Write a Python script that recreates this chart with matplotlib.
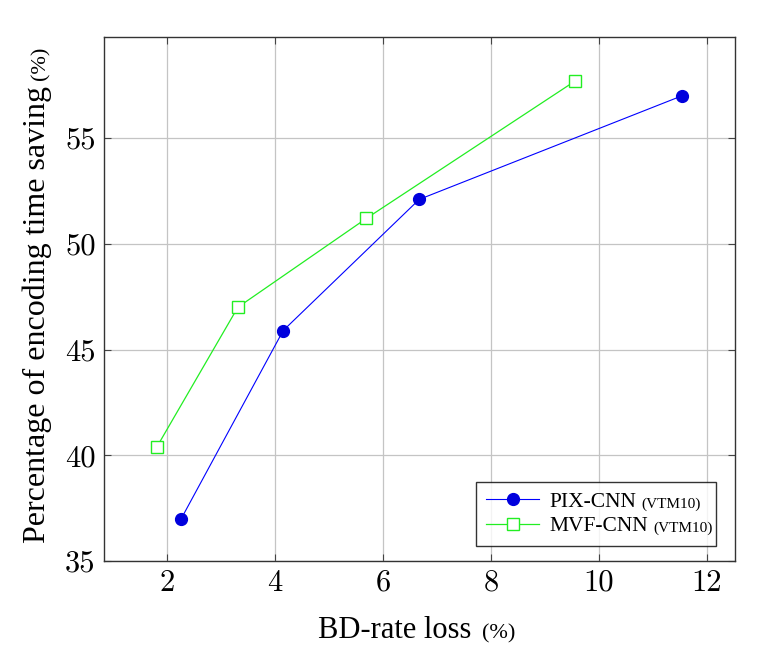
import matplotlib
matplotlib.use("Agg")
import matplotlib.pyplot as plt

# BD-rate loss (%) vs encoding time saving (%)
pix_bd = [2.26, 4.15, 6.67, 11.54]
pix_ts = [37.0, 45.9, 52.1, 57.0]
mvf_bd = [1.81, 3.31, 5.69, 9.56]
mvf_ts = [40.4, 47.0, 51.2, 57.7]

xticks = [2, 4, 6, 8, 10, 12]
yticks = [35, 40, 45, 50, 55]

serif = "Liberation Serif"

fig = plt.figure(figsize=(7.61, 6.51), dpi=100)
ax = fig.add_axes([0.1367, 0.1382, 0.8291, 0.8050])

ax.plot(pix_bd, pix_ts, color="blue", lw=0.8, marker="o", ms=8.5,
        mfc="#0000dd", mec="#0000dd", label="PIX-CNN")
ax.plot(mvf_bd, mvf_ts, color="#22ee22", lw=0.9, marker="s", ms=8,
        mfc="white", mec="#22ee22", mew=1.0, label="MVF-CNN")

ax.set_xlim(0.83, 12.52)
ax.set_ylim(35, 59.78)
ax.set_xticks(xticks)
ax.set_yticks(yticks)
ax.grid(True, color="#c4c4c4", lw=0.9)
ax.set_axisbelow(True)
ax.tick_params(direction="in", top=True, right=True, length=5,
               color="#444444", labelsize=22, pad=6)
for lab in ax.get_xticklabels() + ax.get_yticklabels():
    lab.set_fontfamily("cmr10")
for sp in ax.spines.values():
    sp.set_color("#333333")
    sp.set_linewidth(1.0)

# axis labels with smaller "(%)"
ax.text(0.583, -0.147, "BD-rate loss", transform=ax.transAxes,
        ha="right", va="baseline", fontsize=22, family=serif)
ax.text(0.599, -0.147, "(%)", transform=ax.transAxes,
        ha="left", va="baseline", fontsize=16, family=serif)
ax.text(-0.093, 0.034, "Percentage of encoding time saving", transform=ax.transAxes,
        rotation=90, rotation_mode="anchor", ha="left", va="baseline",
        fontsize=23, family=serif)
ax.text(-0.093, 0.918, "(%)", transform=ax.transAxes,
        rotation=90, rotation_mode="anchor", ha="left", va="baseline",
        fontsize=16, family=serif)

leg = ax.legend(loc="lower left", bbox_to_anchor=(0.5895, 0.0286, 0.3805, 0.12),
                mode="expand", fancybox=False, edgecolor="black",
                prop={"family": serif, "size": 15.5}, handlelength=2.5,
                borderpad=0.45, labelspacing=0.2, handletextpad=0.45,
                borderaxespad=0)
leg.get_frame().set_linewidth(1.0)
for t in leg.get_texts():
    ax.annotate("(VTM10)", xy=(1, 0), xycoords=t, xytext=(4, 1),
                textcoords="offset points", ha="left", va="bottom",
                fontsize=11, family=serif, zorder=10)

fig.savefig("out.png", dpi=100)
